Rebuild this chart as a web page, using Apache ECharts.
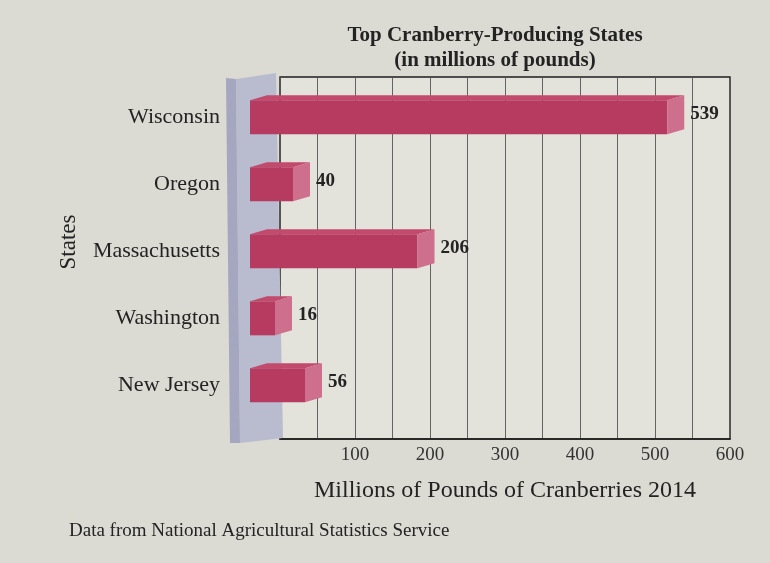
<!DOCTYPE html>
<html>
<head>
<meta charset="utf-8">
<script src="https://cdn.jsdelivr.net/npm/echarts@6/dist/echarts.min.js"></script>
<style>
  html, body { margin: 0; padding: 0; background: #dcdbd3; }
  #chart { width: 770px; height: 563px; }
</style>
</head>
<body>
<div id="chart"></div>
<script>
// ---- data ----
const states = ['Wisconsin', 'Oregon', 'Massachusetts', 'Washington', 'New Jersey'];
const values = [539, 40, 206, 16, 56];
const xTickLabels = [100, 200, 300, 400, 500, 600];
const titleText = 'Top Cranberry-Producing States\n(in millions of pounds)';
const xAxisTitle = 'Millions of Pounds of Cranberries 2014';
const yAxisTitle = 'States';
const sourceText = 'Data from National Agricultural Statistics Service';

const serif = 'Liberation Serif';
const ink = '#232323';

const chart = echarts.init(document.getElementById('chart'), null, { renderer: 'canvas' });

const barData = values.map((v, i) => [v, i]);

function isWhole(v) { return Math.abs(v - Math.round(v)) < 1e-6; }

const option = {
  backgroundColor: '#dcdbd3',
  animation: false,
  title: [
    {
      text: titleText,
      left: 490, top: 18, textAlign: 'center',
      textStyle: { fontFamily: serif, fontWeight: 'bold', fontSize: 21, lineHeight: 25, color: ink }
    },
    {
      text: sourceText,
      left: 64, top: 517,
      textStyle: { fontFamily: serif, fontWeight: 'normal', fontSize: 19, color: ink }
    }
  ],
  grid: {
    left: 280, right: 40, top: 77, bottom: 124,
    show: true, backgroundColor: '#e3e2db', borderColor: '#1e1e1e', borderWidth: 1.4
  },
  xAxis: {
    type: 'value', min: 0, max: 600, interval: 50,
    name: xAxisTitle, nameLocation: 'middle', nameGap: 40,
    nameTextStyle: { fontFamily: serif, fontSize: 24, color: ink },
    axisLine: { show: true, onZero: false, lineStyle: { color: '#1e1e1e', width: 1.6 } },
    axisTick: { show: false },
    axisLabel: {
      margin: 7, fontFamily: serif, fontSize: 19, color: '#333',
      formatter: v => (xTickLabels.indexOf(v) >= 0 ? String(v) : '')
    },
    splitLine: { show: true, lineStyle: { color: '#555', width: 0.9 } }
  },
  yAxis: {
    type: 'value', inverse: true, min: -0.6, max: 4.8, interval: 0.2,
    name: yAxisTitle, nameLocation: 'middle', nameGap: 200, nameRotate: 90,
    nameTextStyle: { fontFamily: serif, fontSize: 23, color: ink, padding: [0, 0, 0, 32] },
    axisLine: { show: false, onZero: false }, axisTick: { show: false },
    splitLine: { show: false },
    axisLabel: {
      margin: 60, fontFamily: serif, fontSize: 22, color: ink,
      formatter: v => {
        if (!isWhole(v)) return '';
        const s = states[Math.round(v)];
        return s === undefined ? '' : s;
      }
    }
  },
  series: [
    {
      // left 3D wall
      type: 'custom', z: 3, silent: true,
      data: [[0]],
      renderItem: (params, api) => {
        const top = api.coord([0, -0.6]);
        const bot = api.coord([0, 4.8]);
        const x0 = top[0];
        return {
          type: 'group',
          children: [
            { type: 'polygon', shape: { points: [[x0 - 44, top[1] + 2], [x0 - 4, top[1] - 4], [x0 + 3, bot[1] - 1], [x0 - 40, bot[1] + 4]] },
              style: { fill: '#b9bccf' } },
            { type: 'polygon', shape: { points: [[x0 - 54, top[1] + 1], [x0 - 44, top[1] + 2], [x0 - 40, bot[1] + 4], [x0 - 50, bot[1] + 4]] },
              style: { fill: '#a4a7bf' } }
          ]
        };
      }
    },
    {
      // 3D bars
      type: 'custom', z: 5,
      data: barData,
      encode: { x: 0, y: 1 },
      renderItem: (params, api) => {
        const v = api.value(0), i = api.value(1);
        const p0 = api.coord([0, i]);
        const p1 = api.coord([v, i]);
        const dx = 17, dy = 5, halfH = 17;
        const fx0 = p0[0] - 30, fx1 = p1[0] - dx;
        const yT = p1[1] - halfH, yB = p1[1] + halfH;
        return {
          type: 'group',
          children: [
            { type: 'polygon', shape: { points: [[fx0, yT], [fx1, yT], [fx1 + dx, yT - dy], [fx0 + dx, yT - dy]] },
              style: { fill: '#c24a6d' } },
            { type: 'rect', shape: { x: fx0, y: yT, width: fx1 - fx0, height: yB - yT },
              style: { fill: '#b73b60' } },
            { type: 'polygon', shape: { points: [[fx1, yT], [fx1 + dx, yT - dy], [fx1 + dx, yB - dy], [fx1, yB]] },
              style: { fill: '#cd6f8d' } },
            { type: 'text', x: fx1 + dx + 6, y: p1[1] - 3,
              style: { text: String(v), fill: ink, font: 'bold 19px "Liberation Serif"', verticalAlign: 'middle', align: 'left' } }
          ]
        };
      }
    }
  ]
};

chart.setOption(option);
</script>
</body>
</html>
